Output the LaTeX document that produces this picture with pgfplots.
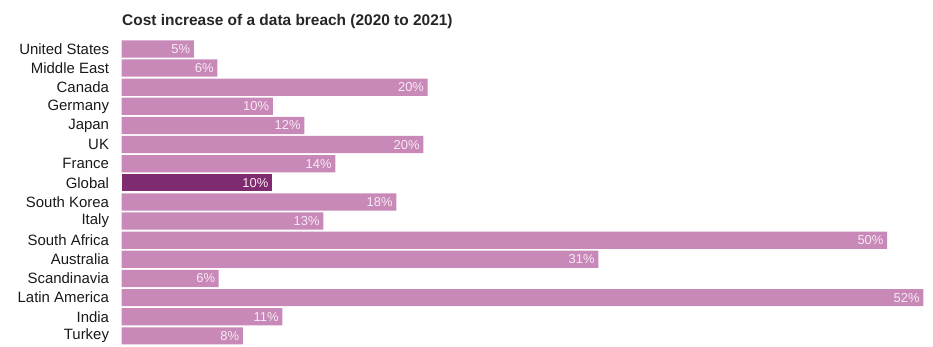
\documentclass[border=0pt]{standalone}
\usepackage{fontspec}
\setmainfont{Liberation Sans}
\usepackage{pgfplots}
\pgfplotsset{compat=1.18}
\definecolor{barpink}{RGB}{200,137,185}
\definecolor{barplum}{RGB}{127,43,111}
\definecolor{lbl}{RGB}{247,234,243}
\begin{document}
\begin{tikzpicture}[x=1bp,y=1bp]
\useasboundingbox (0,0) rectangle (933,-346);
\node[anchor=base west, inner sep=0pt, font=\bfseries\fontsize{15.5}{17}\selectfont, text=black!85] at (122,-25) {Cost increase of a data breach (2020 to 2021)};
\begin{axis}[
  at={(121.7bp,-39.4bp)}, anchor=north west,
  scale only axis, width=811.3bp, height=306bp,
  xmin=0, xmax=52.68, ymin=-0.5, ymax=15.5, y dir=reverse,
  xbar, bar width=17.2bp, bar shift=0pt,
  axis line style={draw=none}, xtick=\empty,
  ytick={0,...,15}, major tick length=0pt,
  yticklabels={United States,Middle East,Canada,Germany,Japan,UK,France,Global,South Korea,Italy,South Africa,Australia,Scandinavia,Latin America,India,Turkey},
  yticklabel style={font=\fontsize{15}{17}\selectfont, text=black!90, inner sep=0pt, anchor=east, xshift=-12.5bp},
  point meta=explicit symbolic,
  nodes near coords={\pgfplotspointmeta\%},
  nodes near coords style={anchor=east, inner sep=0pt, xshift=-3.5bp, text=lbl, font=\fontsize{13}{14}\selectfont},
  clip=false,
]
\addplot[fill=barpink, draw=none] table[meta=lbl] {
x y lbl
4.68 0 5
6.21 1 6
19.87 2 20
9.81 3 10
11.86 4 12
19.58 5 20
13.87 6 14
17.83 8 18
13.09 9 13
49.70 10 50
30.95 11 31
6.30 12 6
52.05 13 52
10.43 14 11
7.86 15 8
};
\addplot[fill=barplum, draw=none] table[meta=lbl] {
x y lbl
9.76 7 10
};
\end{axis}
\end{tikzpicture}
\end{document}
